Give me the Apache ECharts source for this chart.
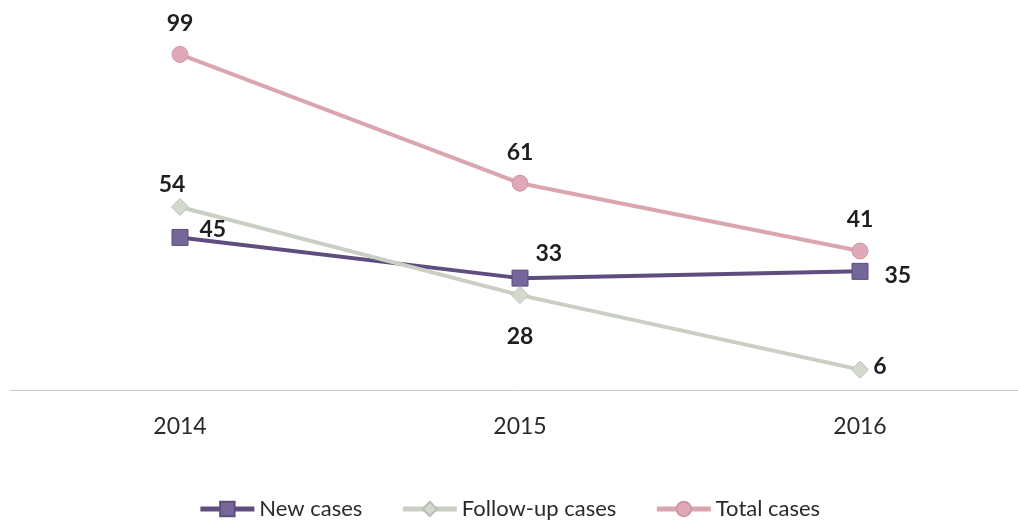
<!DOCTYPE html>
<html><head><meta charset="utf-8">
<script src="https://cdn.jsdelivr.net/npm/echarts@6/dist/echarts.min.js"></script>
<style>html,body{margin:0;padding:0;background:#fff}#c{width:1018px;height:525px}</style>
</head><body><div id="c"></div>
<script>
const categories = ['2014', '2015', '2016'];
const newCases = [45, 33, 35];
const followUpCases = [54, 28, 6];
const totalCases = [99, 61, 41];

const FONT = 'Lato, "Open Sans", sans-serif';
const chart = echarts.init(document.getElementById('c'));
const lbl = (extra) => Object.assign({show: true, color: '#1e1e1e', fontSize: 23, fontWeight: 'bold', fontFamily: FONT}, extra);

chart.setOption({
  animation: false,
  grid: {left: 10, width: 1020, top: 51, bottom: 135, containLabel: false, outerBoundsMode: 'none'},
  xAxis: {
    type: 'category', data: categories, boundaryGap: true,
    axisLine: {lineStyle: {color: '#c8c8c8', width: 1}},
    axisTick: {show: false},
    axisLabel: {color: '#2a2a2a', fontSize: 23, fontFamily: FONT, margin: 25}
  },
  yAxis: {type: 'value', min: 0, max: 100, show: false, splitLine: {show: false}},
  legend: {
    bottom: 0, left: 'center', itemWidth: 54, itemHeight: 18, itemGap: 38,
    lineStyle: {width: 5},
    textStyle: {fontSize: 22, color: '#2a2a2a', fontFamily: FONT},
    data: ['New cases', 'Follow-up cases', 'Total cases']
  },
  series: [
    {
      name: 'New cases', type: 'line', data: newCases,
      symbol: 'rect', symbolSize: 16,
      lineStyle: {color: '#5e4d7e', width: 4},
      itemStyle: {color: '#76679a', borderColor: '#5e4d7e', borderWidth: 1},
      label: lbl({position: 'right', distance: 10}),
      labelLayout: function (p) {
        const offs = [[1, -8], [-3, -25], [6, 4]];
        const o = offs[p.dataIndex];
        return {dx: o[0], dy: o[1]};
      }
    },
    {
      name: 'Follow-up cases', type: 'line', data: followUpCases,
      symbol: 'diamond', symbolSize: 17,
      lineStyle: {color: '#c9cfc3', width: 4},
      itemStyle: {color: '#d3d9cd', borderColor: '#b9bfb3', borderWidth: 1},
      label: lbl({position: 'top', distance: 8}),
      labelLayout: function (p) {
        const offs = [[-8, 6], [0, 70], [20, 25]];
        const o = offs[p.dataIndex];
        return {dx: o[0], dy: o[1]};
      }
    },
    {
      name: 'Total cases', type: 'line', data: totalCases,
      symbol: 'circle', symbolSize: 16,
      lineStyle: {color: '#dba5b0', width: 4},
      itemStyle: {color: '#dfaab5', borderColor: '#cf97a2', borderWidth: 1},
      label: lbl({position: 'top', distance: 11})
    }
  ]
});
</script></body></html>
